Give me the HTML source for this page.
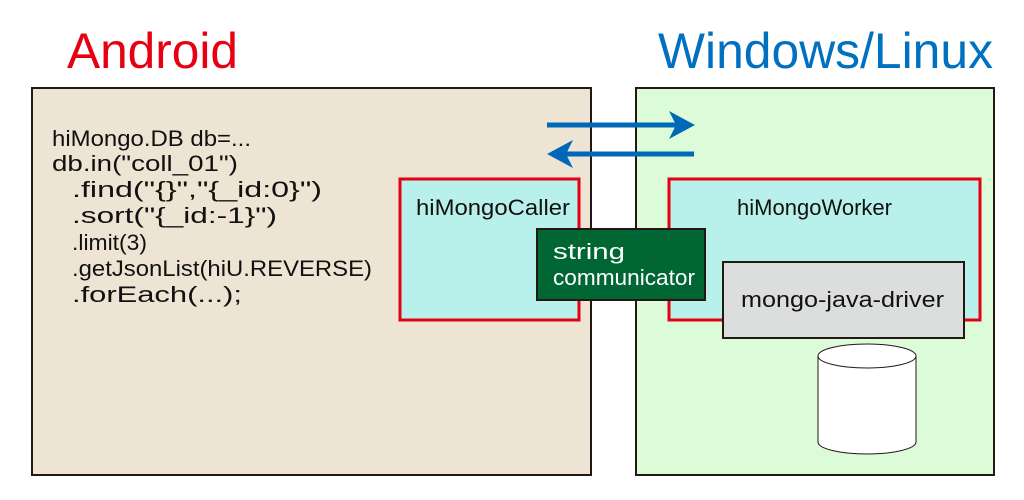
<!DOCTYPE html>
<html><head><meta charset="utf-8"><style>html,body{margin:0;padding:0;background:#fff}svg{display:block}</style></head>
<body>
<svg width="1024" height="500" viewBox="0 0 1024 500" xmlns="http://www.w3.org/2000/svg" font-family="Liberation Sans, sans-serif">
<text x="67" y="68" font-size="50" fill="#e60012" textLength="171" lengthAdjust="spacingAndGlyphs">Android</text>
<text x="658" y="68" font-size="50" fill="#0070c0" textLength="335" lengthAdjust="spacingAndGlyphs">Windows/Linux</text>
<rect x="32" y="88" width="559" height="387" fill="#ede4d3" stroke="#231815" stroke-width="2"/>
<rect x="636" y="88" width="358" height="387" fill="#dcfcd9" stroke="#231815" stroke-width="2"/>
<g font-size="22" fill="#111">
<text x="52" y="146" textLength="199" lengthAdjust="spacingAndGlyphs">hiMongo.DB db=...</text>
<text x="52" y="171" textLength="186" lengthAdjust="spacingAndGlyphs">db.in("coll_01")</text>
<text x="72" y="197" textLength="250" lengthAdjust="spacingAndGlyphs">.find("{}","{_id:0}")</text>
<text x="72" y="223" textLength="205" lengthAdjust="spacingAndGlyphs">.sort("{_id:-1}")</text>
<text x="72" y="250" textLength="75" lengthAdjust="spacingAndGlyphs">.limit(3)</text>
<text x="72" y="276" textLength="300" lengthAdjust="spacingAndGlyphs">.getJsonList(hiU.REVERSE)</text>
<text x="72" y="302" textLength="170" lengthAdjust="spacingAndGlyphs">.forEach(...);</text>
</g>
<rect x="400" y="179" width="179" height="141" fill="#b8f0ec" stroke="#e60012" stroke-width="3"/>
<text x="416" y="215" font-size="22" fill="#111" textLength="154" lengthAdjust="spacingAndGlyphs">hiMongoCaller</text>
<rect x="669" y="179" width="311" height="141" fill="#b8f0ec" stroke="#e60012" stroke-width="3"/>
<text x="737" y="215" font-size="22" fill="#111" textLength="155" lengthAdjust="spacingAndGlyphs">hiMongoWorker</text>
<rect x="537" y="229" width="168" height="71" fill="#006633" stroke="#231815" stroke-width="2"/>
<text x="553" y="259" font-size="22" fill="#fff" textLength="72" lengthAdjust="spacingAndGlyphs">string</text>
<text x="553" y="285" font-size="22" fill="#fff" textLength="142" lengthAdjust="spacingAndGlyphs">communicator</text>
<rect x="723" y="262" width="241" height="76" fill="#dcdddd" stroke="#231815" stroke-width="2"/>
<text x="741" y="307" font-size="22" fill="#111" textLength="203" lengthAdjust="spacingAndGlyphs">mongo-java-driver</text>
<path d="M818 356 L818 442 A49 12 0 0 0 916 442 L916 356" fill="#fff" stroke="#231815" stroke-width="1"/>
<ellipse cx="867" cy="356" rx="49" ry="12" fill="#fff" stroke="#231815" stroke-width="1"/>
<line x1="547" y1="125" x2="680" y2="125" stroke="#0068b7" stroke-width="5"/>
<polygon points="695,125 669,111 676,125 669,139" fill="#0068b7"/>
<line x1="694" y1="154" x2="562" y2="154" stroke="#0068b7" stroke-width="5"/>
<polygon points="547,154 573,140 566,154 573,168" fill="#0068b7"/>
</svg>
</body></html>
